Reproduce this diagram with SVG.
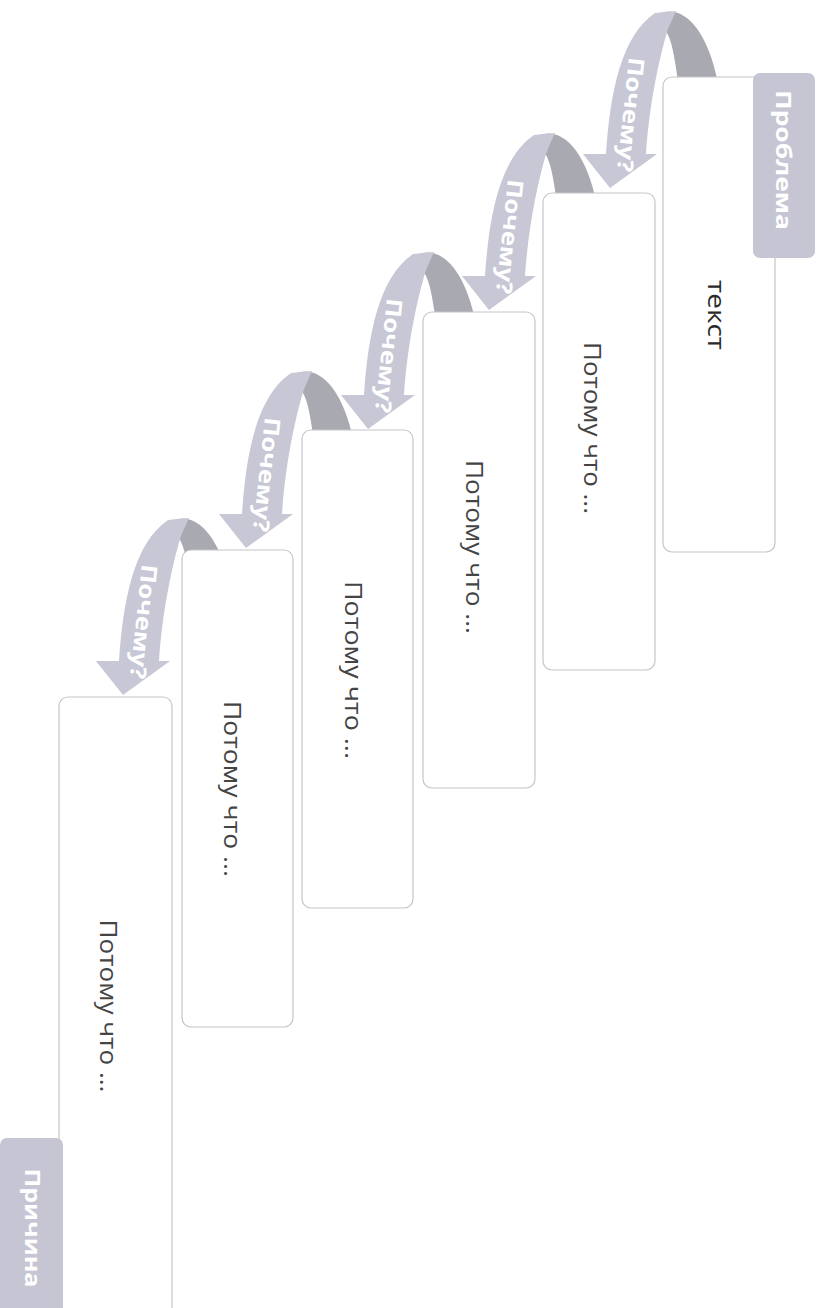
<svg xmlns="http://www.w3.org/2000/svg" xmlns:xlink="http://www.w3.org/1999/xlink" width="822" height="1308" viewBox="0 0 822 1308">
<style>
.box{fill:#ffffff;stroke:#c6c6ca;stroke-width:1.2}
.tab{fill:#c5c5d3}
.tabtxt{font-family:"Open Sans","Liberation Sans",sans-serif;font-weight:bold;font-size:21px;fill:#ffffff}
.txt{font-family:"Open Sans","Liberation Sans",sans-serif;font-size:23px;fill:#444444}
.dark{fill:#a9a9b2}
.light{fill:#c7c7d5}
.why{font-family:"Open Sans","Liberation Sans",sans-serif;font-weight:bold;font-size:22px;fill:#ffffff}
</style>
<defs>
<g id="curl">
<path class="dark" d="M48,-174 C70,-184 96,-165 108,-105 L112,-80 L72,-80 L66,-120 C63,-140 60,-152 55,-158 Z"/>
<path class="light" d="M0,0 L-27,-34 L-4,-34 C0,-95 11,-152 45,-175 L66,-177 C62,-168 59,-162 57,-156 C48,-125 39,-80 36,-34 L47,-34 Z"/>
<text class="why" transform="translate(22,-73) rotate(96)" text-anchor="middle" dominant-baseline="central" textLength="115" lengthAdjust="spacingAndGlyphs">Почему?</text>
</g>
</defs>
<rect width="822" height="1308" fill="#ffffff"/>
<g id="connectors">
<use xlink:href="#curl" href="#curl" transform="translate(610,188)"/>
<use xlink:href="#curl" href="#curl" transform="translate(489,310)"/>
<use xlink:href="#curl" href="#curl" transform="translate(368,429)"/>
<use xlink:href="#curl" href="#curl" transform="translate(246,548)"/>
<use xlink:href="#curl" href="#curl" transform="translate(123,695)"/>
</g>
<g id="node1">
<rect class="box" x="663" y="77" width="112" height="475" rx="9"/>
<rect class="tab" x="753" y="73" width="62" height="185" rx="7"/>
<text class="tabtxt" transform="translate(784,160) rotate(90)" text-anchor="middle" dominant-baseline="central" textLength="140" lengthAdjust="spacingAndGlyphs">Проблема</text>
<text class="txt" transform="translate(717,315) rotate(90)" text-anchor="middle" dominant-baseline="central" textLength="70" lengthAdjust="spacingAndGlyphs" style="fill:#2a2a2a">текст</text>
</g>
<g id="node2">
<rect class="box" x="543" y="193" width="112" height="477" rx="9"/>
<text class="txt" transform="translate(593,428) rotate(90)" text-anchor="middle" dominant-baseline="central" textLength="172" lengthAdjust="spacingAndGlyphs">Потому что ...</text>
</g>
<g id="node3">
<rect class="box" x="423" y="312" width="112" height="476" rx="9"/>
<text class="txt" transform="translate(475,547) rotate(90)" text-anchor="middle" dominant-baseline="central" textLength="174" lengthAdjust="spacingAndGlyphs">Потому что ...</text>
</g>
<g id="node4">
<rect class="box" x="302" y="430" width="111" height="478" rx="9"/>
<text class="txt" transform="translate(354,670) rotate(90)" text-anchor="middle" dominant-baseline="central" textLength="178" lengthAdjust="spacingAndGlyphs">Потому что ...</text>
</g>
<g id="node5">
<rect class="box" x="182" y="550" width="111" height="477" rx="9"/>
<text class="txt" transform="translate(233,789) rotate(90)" text-anchor="middle" dominant-baseline="central" textLength="176" lengthAdjust="spacingAndGlyphs">Потому что ...</text>
</g>
<g id="node6">
<rect class="box" x="59" y="697" width="113" height="640" rx="9"/>
<rect class="tab" x="0" y="1138" width="63" height="190" rx="7"/>
<text class="tabtxt" transform="translate(33,1228) rotate(90)" text-anchor="middle" dominant-baseline="central" textLength="119" lengthAdjust="spacingAndGlyphs">Причина</text>
<text class="txt" transform="translate(109,1006) rotate(90)" text-anchor="middle" dominant-baseline="central" textLength="173" lengthAdjust="spacingAndGlyphs">Потому что ...</text>
</g>
</svg>
